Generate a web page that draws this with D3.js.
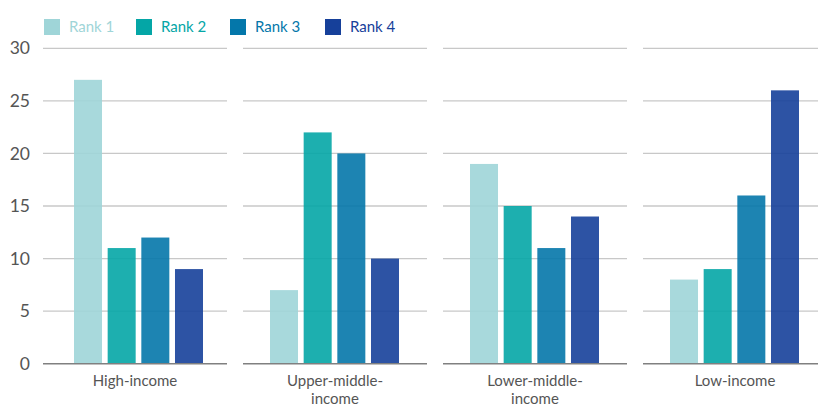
<!DOCTYPE html>
<html><head><meta charset="utf-8">
<script src="https://cdn.jsdelivr.net/npm/d3@7"></script>
<style>body{margin:0;background:#fff;overflow:hidden}text{font-family:Lato,"Open Sans",sans-serif}</style>
</head><body><svg id="c" width="818" height="406"></svg>
<script>
const categories = ["High-income", "Upper-middle-income", "Lower-middle-income", "Low-income"];
const categoryLines = [["High-income"], ["Upper-middle-", "income"], ["Lower-middle-", "income"], ["Low-income"]];
const seriesNames = ["Rank 1", "Rank 2", "Rank 3", "Rank 4"];
const rank1 = [27, 7, 19, 8];
const rank2 = [11, 22, 15, 9];
const rank3 = [12, 20, 11, 16];
const rank4 = [9, 10, 14, 26];
const yTicks = [0, 5, 10, 15, 20, 25, 30];
const seriesValues = [rank1, rank2, rank3, rank4];
const colors = ["#9fd5d8", "#04a6a6", "#0477aa", "#16409a"];
const barShift = [4, 0, 0, 0];

const svg = d3.select("#c");
const y = d3.scaleLinear().domain([0, 30]).range([363.7, 48.3]);
const panel = d3.scaleBand().domain(categories).range([43, 827]).paddingInner(0.08).paddingOuter(0);
const x = d3.scaleBand().domain(seriesNames).range([27, 156]).paddingInner(0.168).paddingOuter(0);

// y axis labels
svg.append("g").selectAll("text").data(yTicks).join("text")
  .attr("x", 30).attr("y", d => y(d)).attr("dy", "0.35em")
  .attr("text-anchor", "end").attr("font-size", 17.5).attr("fill", "#555").text(d => d);

categories.forEach((cat, ci) => {
  const g = svg.append("g").attr("transform", `translate(${panel(cat)},0)`);
  g.selectAll("line.grid").data(yTicks.filter(t => t > 0)).join("line")
    .attr("x1", 0).attr("x2", panel.bandwidth())
    .attr("y1", d => y(d)).attr("y2", d => y(d))
    .attr("stroke", "#c8c8c8").attr("stroke-width", 1.3);
  g.selectAll("rect").data(seriesNames).join("rect")
    .attr("x", s => x(s) + barShift[ci]).attr("width", x.bandwidth())
    .attr("y", (s, si) => y(seriesValues[si][ci]))
    .attr("height", (s, si) => y(0) - y(seriesValues[si][ci]))
    .attr("fill", (s, si) => colors[si]).attr("opacity", 0.9);
  g.append("line").attr("x1", 0).attr("x2", panel.bandwidth())
    .attr("y1", y(0)).attr("y2", y(0)).attr("stroke", "#808080").attr("stroke-width", 1.6);
  const t = g.append("text").attr("x", panel.bandwidth() / 2).attr("y", 386)
    .attr("text-anchor", "middle").attr("font-size", 15).attr("fill", "#555");
  categoryLines[ci].forEach((ln, li) => t.append("tspan").attr("x", panel.bandwidth() / 2).attr("dy", li ? 18 : 0).text(ln));
});

// legend
const legX = [44, 136, 230, 325];
const lg = svg.append("g").selectAll("g").data(seriesNames).join("g")
  .attr("transform", (d, i) => `translate(${legX[i]},19)`);
lg.append("rect").attr("width", 16).attr("height", 16).attr("fill", (d, i) => colors[i]);
lg.append("text").attr("x", 25).attr("y", 8).attr("dy", "0.35em").attr("font-size", 15)
  .attr("fill", (d, i) => colors[i]).text(d => d);
</script></body></html>
